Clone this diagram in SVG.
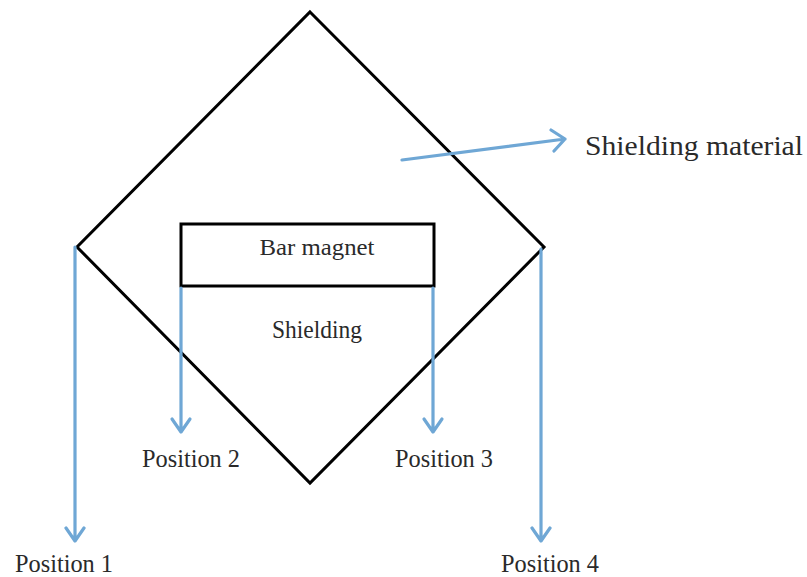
<svg xmlns="http://www.w3.org/2000/svg" width="807" height="577" viewBox="0 0 807 577">
<style>
.shape{fill:none;stroke:#000;stroke-width:3;stroke-linejoin:miter}
.conn{fill:none;stroke:#6FA7D5;stroke-width:3.2;stroke-linecap:round;stroke-linejoin:round}
.lbl{font-family:"Liberation Serif","DejaVu Serif",serif;fill:#2a2a2a}
</style>
<rect width="807" height="577" fill="#fff"/>
<g id="shielding">
<polygon class="shape" points="310,12 544,247 310,483 77,247"/>
<text class="lbl" x="317" y="338" font-size="25" text-anchor="middle" textLength="90" lengthAdjust="spacingAndGlyphs">Shielding</text>
</g>
<g id="bar-magnet">
<rect class="shape" x="181" y="224" width="253" height="62"/>
<text class="lbl" x="317" y="255" font-size="24" text-anchor="middle" textLength="115" lengthAdjust="spacingAndGlyphs">Bar magnet</text>
</g>
<g id="shielding-material">
<text class="lbl" x="585" y="155" font-size="28" fill="#111" textLength="218" lengthAdjust="spacingAndGlyphs">Shielding material</text>
</g>
<g id="position-1"><text class="lbl" x="15" y="572" font-size="26" textLength="98" lengthAdjust="spacingAndGlyphs">Position 1</text></g>
<g id="position-2"><text class="lbl" x="142" y="467" font-size="26" textLength="98" lengthAdjust="spacingAndGlyphs">Position 2</text></g>
<g id="position-3"><text class="lbl" x="395" y="467" font-size="26" textLength="98" lengthAdjust="spacingAndGlyphs">Position 3</text></g>
<g id="position-4"><text class="lbl" x="501" y="572" font-size="26" textLength="98" lengthAdjust="spacingAndGlyphs">Position 4</text></g>
<g id="connectors">
<path class="conn" d="M75,247 V541 M66,528 L75,541 L84,528"/>
<path class="conn" d="M181,288 V432 M172,419 L181,432 L190,419"/>
<path class="conn" d="M433,288 V432 M424,419 L433,432 L442,419"/>
<path class="conn" d="M541,249 V541 M532,528 L541,541 L550,528"/>
<path class="conn" d="M402,160 L565,139 M551,130 L565,139 L554,151"/>
</g>
</svg>
